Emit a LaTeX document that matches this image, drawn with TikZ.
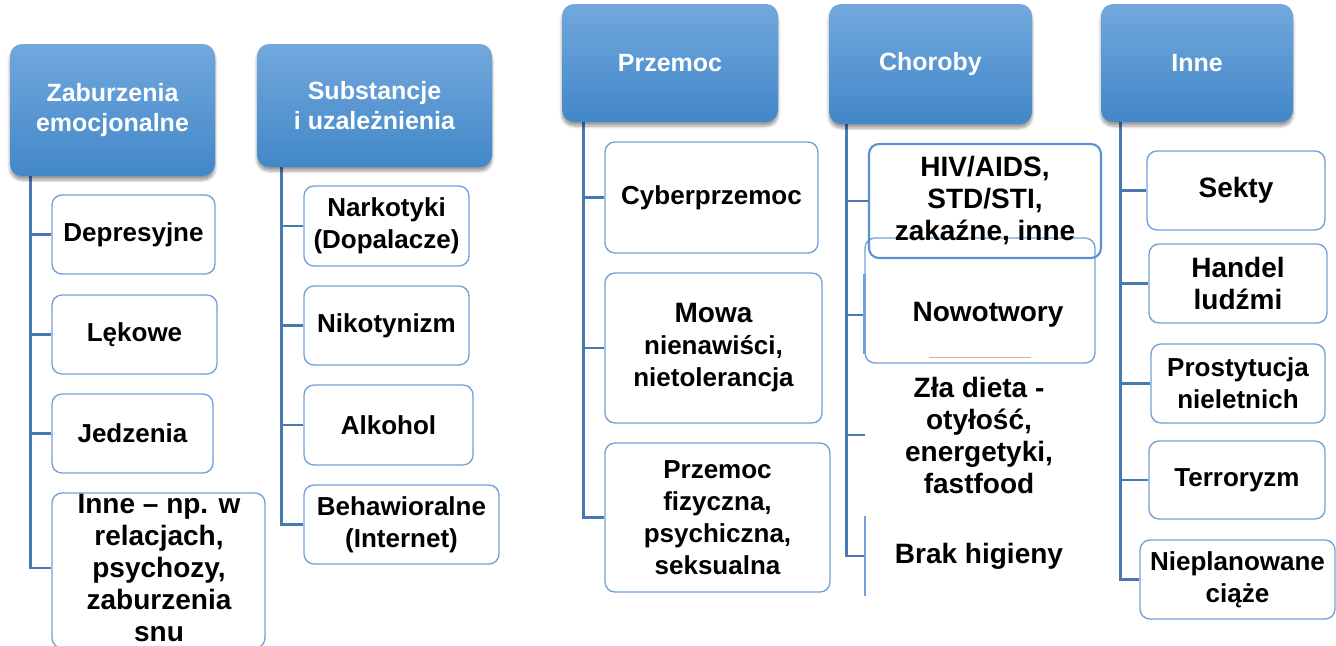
\documentclass[tikz,border=0pt]{standalone}
\usepackage{fontspec}
\setmainfont{Liberation Sans}
\usetikzlibrary{calc,shadows.blur}
\definecolor{htop}{RGB}{114,168,221}
\definecolor{hbot}{RGB}{66,135,200}
\definecolor{cbord}{RGB}{112,162,216}
\definecolor{hivbord}{RGB}{88,146,212}
\definecolor{conncol}{RGB}{72,121,176}
\definecolor{faintred}{RGB}{242,165,165}
\pgfdeclarelayer{bg}
\pgfsetlayers{bg,main}
\newcommand\mybox[7]{\node[#1, minimum width={(#4-#2)*0.75pt}, minimum height={(#5-#3)*0.75pt}] (#6) at ({(#2+#4)/2},{(#3+#5)/2}) {#7};}
\begin{document}
\begin{tikzpicture}[x=0.75pt,y=-0.75pt,
  head/.style={rounded corners=9pt, top color=htop, bottom color=hbot, text=white,
    font=\bfseries\fontsize{18.75}{22}\selectfont, align=center, inner sep=0pt,
    blur shadow={shadow xshift=0pt, shadow yshift=-3pt, shadow blur steps=6, shadow opacity=40}},
  child/.style={rounded corners=7.5pt, draw=cbord, line width=1pt, fill=white,
    font=\bfseries\fontsize{19.5}{24}\selectfont, align=center, inner sep=0pt},
  bigtxt/.style={font=\bfseries\fontsize{21}{24}\selectfont},
  plain/.style={align=center, inner sep=0pt, font=\bfseries\fontsize{19.5}{24}\selectfont},
  conn/.style={draw=conncol, line width=2.2pt}]
\useasboundingbox (0,0) rectangle (1336,646);
% headers
\mybox{head}{10}{44}{215}{176}{h1}{Zaburzenia\\emocjonalne}
\mybox{head}{257}{44}{492}{167}{h2}{Substancje\\i uzależnienia}
\mybox{head}{562}{4}{778}{122}{h3}{Przemoc}
\mybox{head}{829}{4}{1032}{124}{h4}{Choroby}
\mybox{head}{1101}{4}{1293}{122}{h5}{Inne}
% column 1
\mybox{child}{52}{195}{215}{274}{a1}{Depresyjne}
\mybox{child}{52}{295}{217}{374}{a2}{Lękowe}
\mybox{child}{52}{394}{213}{473}{a3}{Jedzenia}
\mybox{child}{52}{493}{265}{648}{a4}{}
\node[plain, bigtxt] (a4t) at (159,568) {Inne – np. w\\relacjach,\\psychozy,\\zaburzenia\\snu};
% column 2
\mybox{child}{304}{186}{469}{266}{b1}{Narkotyki\\(Dopalacze)}
\mybox{child}{304}{286}{469}{365}{b2}{Nikotynizm}
\mybox{child}{304}{385}{473}{465}{b3}{Alkohol}
\mybox{child}{304}{485}{499}{564}{b4}{Behawioralne\\(Internet)}
% column 3
\mybox{child}{605}{142}{818}{253}{c1}{Cyberprzemoc}
\mybox{child}{605}{273}{822}{423}{c2}{{\fontsize{21}{24}\selectfont Mowa}\\nienawiści,\\nietolerancja}
\mybox{child}{605}{443}{830}{592}{c3}{Przemoc\\fizyczna,\\psychiczna,\\seksualna}
% column 4
\mybox{child, fill=none}{865}{238}{1095}{363}{d2}{}
\node[plain, bigtxt] (d2t) at (988,315) {Nowotwory};
\mybox{child, fill=none, draw=hivbord, line width=1.6pt, bigtxt}{869}{144}{1101}{258}{d1}{HIV/AIDS,\\STD/STI,\\zakaźne, inne}
\draw[cbord, line width=1.8pt] ($(d2.south west)+(0,-10)$) -- ($(d2.north west)+(0,37)$);
\draw[faintred, line width=0.7pt] (929,357) -- (1031,357);
\node[plain, bigtxt, minimum width=228*0.75pt] (d3) at (979,435) {Zła dieta -\\otyłość,\\energetyki,\\fastfood};
\node[plain, bigtxt, minimum width=228*0.75pt, minimum height=80*0.75pt] (d4) at (979,556) {Brak higieny};
\draw[cbord, line width=1.5pt] (d4.north west) -- (d4.south west);
% column 5
\mybox{child}{1147}{151}{1325}{230}{e1}{{\fontsize{21}{24}\selectfont Sekty}}
\mybox{child, bigtxt}{1149}{244}{1327}{323}{e2}{Handel\\ludźmi}
\mybox{child}{1151}{344}{1325}{423}{e3}{Prostytucja\\nieletnich}
\mybox{child}{1149}{441}{1325}{519}{e4}{Terroryzm}
\mybox{child}{1140}{540}{1335}{619}{e5}{Nieplanowane\\ciąże}
% connectors
\begin{pgfonlayer}{bg}
\coordinate (k1) at ($(h1.south west)+(21,0)$);
\coordinate (k2) at ($(h2.south west)+(25,0)$);
\coordinate (k3) at ($(h3.south west)+(22,0)$);
\coordinate (k4) at ($(h4.south west)+(18,0)$);
\coordinate (k5) at ($(h5.south west)+(20,0)$);
\draw[conn] (k1) |- (a4t.west -| a4.west);
\foreach \n in {a1,a2,a3} \draw[conn] (\n.west) -- (\n.west -| k1);
\draw[conn] (k2) |- (b4.west);
\foreach \n in {b1,b2,b3} \draw[conn] (\n.west) -- (\n.west -| k2);
\draw[conn] (k3) |- (c3.west);
\foreach \n in {c1,c2} \draw[conn] (\n.west) -- (\n.west -| k3);
\draw[conn] (k4) |- (d4.west);
\draw[conn] (d1.west) -- (d1.west -| k4);
\draw[conn] (d2t -| d2.west) -- (d2t -| k4);
\draw[conn] (d3.west) -- (d3.west -| k4);
\draw[conn] (k5) |- (e5.west);
\foreach \n in {e1,e2,e3,e4} \draw[conn] (\n.west) -- (\n.west -| k5);
\end{pgfonlayer}
\end{tikzpicture}
\end{document}
